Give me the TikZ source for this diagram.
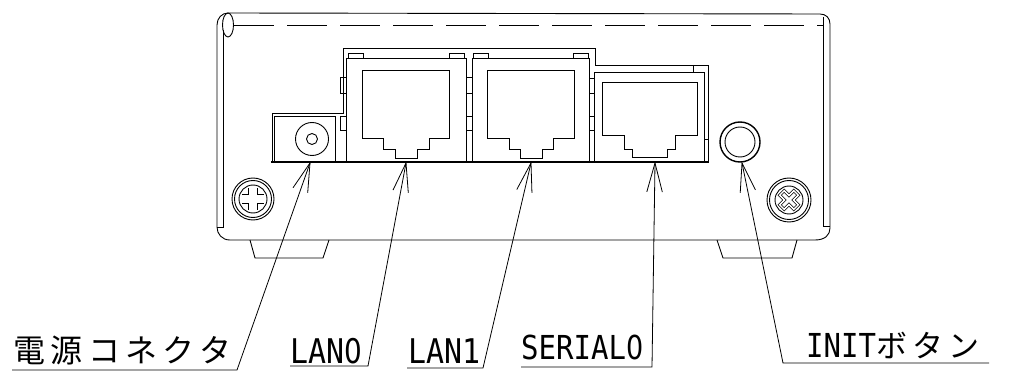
\documentclass[tikz,border=0pt]{standalone}
\usepackage{fontspec}
\usetikzlibrary{calc}
\newfontfamily\jpfont[LetterSpace=17]{Noto Sans CJK JP}
\newfontfamily\lafont[FakeStretch=0.88]{DejaVu Sans Mono}
\newfontfamily\zerofont[FakeStretch=0.82]{DejaVu Sans}
\newcommand\mybarbs[2]{\draw[leader] ($(#1)!30pt!15:(#2)$) -- (#1) -- ($(#1)!30pt!-15:(#2)$);}
\newcommand\myzero{{\zerofont 0}}
\tikzset{
  thin line/.style={line width=0.9pt, black},
  thick line/.style={line width=1.9pt, black},
  leader/.style={line width=0.8pt, black},
  lbl/.style={anchor=base west, inner sep=0pt},
  screwcross/.pic={
    \draw[line width=0.7pt, double distance=1.5pt]
      (3.2,10) -- (3.2,3.2) -- (10,3.2) -- (10,-3.2) -- (3.2,-3.2) -- (3.2,-10)
      -- (-3.2,-10) -- (-3.2,-3.2) -- (-10,-3.2) -- (-10,3.2) -- (-3.2,3.2) -- (-3.2,10) -- cycle;
  }
}
\begin{document}
\begin{tikzpicture}[x=1pt,y=-1pt]
\useasboundingbox (0,0) rectangle (1009,374);
\fill[white] (0,0) rectangle (1009,374);
% housing
\draw[thin line] (228,13) -- (820,14) .. controls (826,14) and (830,18) .. (830,24)
  -- (830,228) .. controls (830,235) and (825,240) .. (815,240) -- (230,240)
  .. controls (222,240) and (217,234) .. (217,227) -- (217,25)
  .. controls (217,18) and (222,13) .. (228,13);
\draw[thin line] (228,25) ellipse[x radius=5.5, y radius=12];
\draw[thin line] (223,30) -- (223,227) -- (217,227);
\draw[thin line] (823,17) -- (823,226) -- (830,226);
\draw[thin line, dash pattern=on 40pt off 13pt] (234,25) -- (823,25);
% feet
\draw[thin line] (250,240) -- (255,258) -- (323,258) -- (329,240);
\draw[thin line] (717,240) -- (723,258) -- (792,258) -- (797,240);
% panel outline
\draw[thin line] (272,162) -- (272,113) -- (343,113) -- (343,48) -- (595,48) -- (595,65) -- (708,65) -- (708,162);
\draw[thin line] (704,162) -- (704,72) (693,65) -- (693,72) (704,139) -- (708,139);
% power jack
\draw[thin line] (274,162) -- (274,116) -- (335,116) -- (335,162);
\draw[thin line] (312,139) circle[radius=16.5];
\draw[thin line] (312,139) circle[radius=5.5];
% LAN0 module
\draw[thin line] (346,162) -- (346,58) -- (466,58) -- (466,162);
\draw[thin line] (348,58) -- (348,53) -- (363,53) -- (363,58);
\draw[thin line] (449,58) -- (449,53) -- (464,53) -- (464,58);
\draw[thin line] (340,77) rectangle (346,93);
\draw[thin line] (340,116) rectangle (346,130);
\draw[thin line] (362,70) -- (362,138) -- (383,138) -- (383,149) -- (395,149) -- (395,158)
  -- (417,158) -- (417,149) -- (429,149) -- (429,138) -- (449,138) -- (449,70) -- cycle;
% LAN1 module
\draw[thin line] (466,77) rectangle (472,93);
\draw[thin line] (466,116) rectangle (472,130);
\draw[thin line] (472,162) -- (472,58) -- (589,58) -- (589,162);
\draw[thin line] (473,58) -- (473,53) -- (488,53) -- (488,58);
\draw[thin line] (573,58) -- (573,53) -- (588,53) -- (588,58);
\draw[thin line] (487,70) -- (487,138) -- (509,138) -- (509,149) -- (520,149) -- (520,158)
  -- (542,158) -- (542,149) -- (553,149) -- (553,138) -- (574,138) -- (574,70) -- cycle;
% SERIAL0 module
\draw[thin line] (589,78) rectangle (594,93);
\draw[thin line] (589,116) rectangle (594,130);
\draw[thin line] (594,162) -- (594,72) -- (704,72);
\draw[thin line] (602,82) -- (602,135) -- (624,135) -- (624,149) -- (632,149) -- (632,157)
  -- (667,157) -- (667,149) -- (675,149) -- (675,135) -- (697,135) -- (697,82) -- cycle;
% bottom of panel
\draw[thick line] (271,162) -- (709,162);
% init button
\draw[line width=1.4pt] (740,142) circle[radius=20];
\draw[thin line] (740,142) circle[radius=15];
% screws
\draw[thin line] (253,199) circle[radius=21];
\draw[thin line] (253,199) circle[radius=18.5];
\draw[thin line] (253,199) circle[radius=14];
\pic at (253,199) {screwcross};
\draw[thin line] (789,200) circle[radius=22];
\draw[thin line] (789,200) circle[radius=19.5];
\draw[thin line] (789,200) circle[radius=14];
\pic[rotate=45] at (789,200) {screwcross};
% leader coordinates
\coordinate (pwtip) at (310,163);
\coordinate (pwa) at (12,370);
\coordinate (pwb) at (237,370);
\coordinate (l0tip) at (406,163);
\coordinate (l0a) at (290,366);
\coordinate (l0b) at (368,366);
\coordinate (l1tip) at (531,163);
\coordinate (l1a) at (407,368);
\coordinate (l1b) at (483,368);
\coordinate (sptip) at (655,163);
\coordinate (spa) at (521,367);
\coordinate (spb) at (652,367);
\coordinate (ittip) at (742,163);
\coordinate (ita) at (989,363);
\coordinate (itb) at (783,363);
% labels
\node[lbl] (pwlbl) at (13,362) {\fontsize{32}{32}\selectfont\jpfont 電源コネクタ};
\node[lbl] (l0lbl) at (290,363) {\fontsize{34}{34}\selectfont\lafont LAN\myzero};
\node[lbl] (l1lbl) at (408,363) {\fontsize{34}{34}\selectfont\lafont LAN1};
\node[lbl] (splbl) at (521,359) {\fontsize{33}{33}\selectfont\lafont SERIAL\myzero};
\node[lbl] (itlbl) at (806,357) {\fontsize{33}{33}\selectfont\lafont INIT\fontsize{31}{31}\selectfont\jpfont ボタン};
% leaders
\draw[leader] (pwa) -- (pwb) -- (pwtip); \mybarbs{pwtip}{pwb}
\draw[leader] (l0a) -- (l0b) -- (l0tip); \mybarbs{l0tip}{l0b}
\draw[leader] (l1a) -- (l1b) -- (l1tip); \mybarbs{l1tip}{l1b}
\draw[leader] (spa) -- (spb) -- (sptip); \mybarbs{sptip}{spb}
\draw[leader] (ita) -- (itb) -- (ittip); \mybarbs{ittip}{itb}
\end{tikzpicture}
\end{document}
